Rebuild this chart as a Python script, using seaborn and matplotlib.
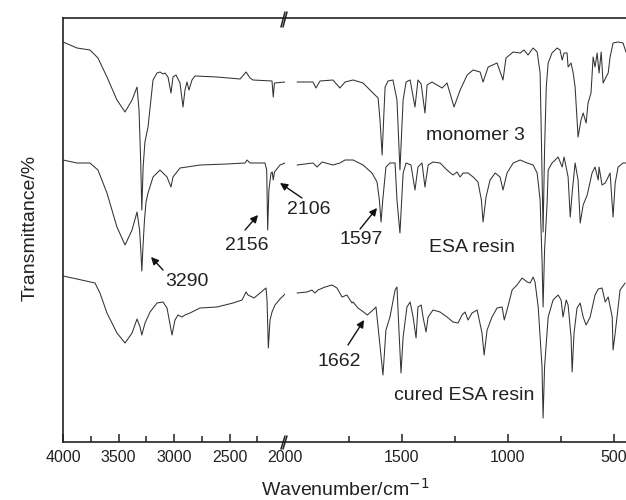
import matplotlib
matplotlib.use("Agg")
import matplotlib.pyplot as plt
from matplotlib.lines import Line2D
import pandas as pd
import seaborn as sns

# ---- spectra: wavenumber (cm^-1) and transmittance (arbitrary, stacked) ----
monomer_wn = [4000, 3874, 3757, 3685, 3604, 3514, 3441, 3378, 3333, 3315, 3300, 3290, 3278,
              3262, 3234, 3189, 3153, 3126, 3099, 3081, 3054, 3027, 3009, 2982, 2946, 2919,
              2901, 2883, 2865, 2838, 2811, 2613, 2405, 2351, 2315, 2288, 2117, 2106, 2095,
              2000,
              1993, 1918, 1904, 1885, 1824, 1791, 1767, 1729, 1682, 1635, 1611, 1602, 1592,
              1585, 1578, 1564, 1541, 1522, 1508, 1493, 1479, 1460, 1437, 1423, 1408, 1390,
              1380, 1357, 1333, 1309, 1286, 1253, 1224, 1191, 1163, 1130, 1116, 1092, 1050,
              1022, 1008, 974, 941, 923, 904, 880, 861, 847, 840, 833, 826, 818, 809, 791,
              767, 753, 743, 734, 720, 715, 701, 691, 682, 668, 654, 644, 630, 621, 607, 597,
              588, 578, 569, 559, 550, 536, 526, 517, 503, 479, 456, 442]
monomer_T = [400, 394, 392, 384, 365, 342, 330, 342, 355, 332, 280, 232, 275,
             300, 315, 362, 369, 370, 368, 369, 365, 349, 365, 367, 359, 335,
             352, 360, 352, 362, 366, 365, 363, 370, 364, 362, 361, 345, 359,
             360,
             360, 360, 354, 361, 362, 354, 360, 362, 359, 349, 344, 322, 287,
             322, 355, 361, 362, 342, 272, 342, 360, 362, 335, 362, 358, 329,
             357, 360, 357, 354, 359, 335, 352, 367, 372, 370, 360, 375, 379,
             362, 384, 390, 389, 392, 387, 394, 390, 369, 292, 210, 292, 355, 379, 389,
             394, 392, 382, 389, 389, 375, 379, 369, 355, 305, 322, 329, 319, 339, 349, 385,
             375, 389, 369, 390, 359, 365, 369, 385, 399, 400, 399, 390]

resin_wn = [4000, 3874, 3757, 3685, 3604, 3514, 3441, 3378, 3333, 3310, 3298, 3290, 3281,
            3266, 3252, 3234, 3189, 3126, 3063, 3027, 3009, 2946, 2883, 2766, 2523, 2360,
            2342, 2315, 2180, 2165, 2156, 2145, 2126, 2115, 2106, 2095, 2045, 2000,
            1993, 1918, 1899, 1875, 1824, 1791, 1767, 1729, 1682, 1640, 1616, 1605, 1597,
            1589, 1574, 1555, 1531, 1522, 1508, 1493, 1479, 1456, 1437, 1423, 1404, 1390,
            1375, 1352, 1319, 1286, 1258, 1239, 1224, 1210, 1187, 1163, 1140, 1124, 1116,
            1102, 1083, 1059, 1036, 1022, 1003, 974, 941, 908, 880, 861, 847, 838, 833,
            826, 814, 809, 791, 776, 762, 743, 734, 715, 705, 696, 682, 668, 658, 644, 625,
            602, 588, 573, 569, 555, 540, 526, 517, 503, 493, 479, 456, 442]
resin_T = [282, 279, 279, 272, 249, 215, 197, 212, 230, 212, 190, 171, 192,
           222, 240, 249, 265, 272, 265, 255, 265, 274, 275, 277, 278, 279,
           282, 279, 279, 272, 212, 252, 269, 270, 262, 270, 277, 279,
           277, 279, 275, 280, 277, 279, 282, 282, 277, 269, 260, 242, 220,
           242, 275, 279, 279, 242, 209, 269, 279, 277, 252, 275, 279, 255,
           277, 280, 279, 272, 267, 270, 265, 269, 269, 265, 260, 242, 220,
           245, 262, 269, 265, 252, 269, 279, 282, 279, 277, 269, 242, 182, 135,
           192, 239, 272, 279, 282, 285, 275, 285, 265, 225, 249, 279, 262, 219, 237, 247,
           269, 275, 262, 275, 257, 259, 265, 269, 225, 259, 275, 279, 279]

cured_wn = [4000, 3874, 3712, 3667, 3604, 3514, 3441, 3378, 3333, 3306, 3290, 3261, 3216,
            3153, 3099, 3063, 3018, 2991, 2964, 2928, 2901, 2856, 2766, 2613, 2468, 2387,
            2351, 2333, 2279, 2225, 2171, 2162, 2150, 2135, 2117, 2090, 2045, 2000,
            1993, 1946, 1923, 1909, 1894, 1861, 1828, 1805, 1781, 1758, 1734, 1729, 1706,
            1673, 1662, 1635, 1621, 1611, 1588, 1574, 1555, 1531, 1522, 1512, 1503, 1493,
            1475, 1460, 1446, 1432, 1423, 1408, 1399, 1385, 1375, 1352, 1319, 1286, 1258,
            1234, 1215, 1201, 1187, 1168, 1144, 1121, 1111, 1097, 1074, 1050, 1026, 1016,
            1003, 979, 956, 932, 908, 894, 880, 871, 856, 838, 833, 826, 809, 786, 762,
            748, 739, 724, 715, 701, 696, 687, 673, 658, 644, 630, 611, 588, 573, 555, 540,
            526, 507, 503, 493, 470, 446]
cured_T = [166, 163, 159, 149, 129, 109, 99, 109, 123, 115, 107, 119, 130,
           139, 140, 134, 107, 122, 127, 125, 127, 129, 134, 135, 139, 142,
           150, 147, 144, 149, 154, 142, 94, 122, 130, 137, 143, 148,
           149, 150, 152, 149, 152, 155, 157, 154, 145, 147, 139, 140, 134,
           129, 127, 132, 135, 115, 67, 112, 125, 152, 155, 109, 69, 105,
           135, 140, 125, 104, 135, 137, 125, 110, 125, 132, 130, 125, 120,
           119, 127, 130, 122, 129, 132, 109, 87, 112, 125, 134, 135, 122,
           132, 152, 157, 164, 160, 159, 165, 160, 135, 75, 24, 75, 125, 142, 147,
           142, 125, 142, 137, 105, 70, 109, 134, 139, 125, 117, 125, 147, 153, 154, 140,
           145, 125, 92, 109, 152, 159]

sample_names = ["monomer 3", "ESA resin", "cured ESA resin"]

# marked bands: value, arrow head (wn, T), arrow tail (wn, T), label centre (wn, T)
band_values = [3290, 2156, 2106, 1597, 1662]
band_heads = [(3207, 185), (2243, 227), (2045, 259), (1616, 234), (1677, 122)]
band_tails = [(3099, 172), (2360, 212), (1970, 244), (1696, 213), (1753, 97)]
band_texts = [(2883, 160), (2342, 197), (1937, 232), (1691, 202), (1795, 80)]

# sample name positions (wn, T) on the right-hand panel
name_pos = [(1154, 307), (1168, 194), (1206, 46)]

frames = []
for name, wn, tr in zip(sample_names, [monomer_wn, resin_wn, cured_wn],
                        [monomer_T, resin_T, cured_T]):
    frames.append(pd.DataFrame({"wn": wn, "T": tr, "sample": name}))
df = pd.concat(frames, ignore_index=True)

sns.set_theme(style="white")
plt.rcParams["font.family"] = ["Liberation Sans", "DejaVu Sans"]

W, H = 626, 500
fig = plt.figure(figsize=(W / 100, H / 100), dpi=100)


def rect(x0, y0, x1, y1):
    return [x0 / W, 1 - y1 / H, (x1 - x0) / W, (y1 - y0) / H]


ax_l = fig.add_axes(rect(63, 18, 285, 442))
ax_r = fig.add_axes(rect(285, 18, 626, 442))

line_color = "#333333"
for ax, part in [(ax_l, df[df["wn"] >= 2000]), (ax_r, df[df["wn"] < 2000])]:
    sns.lineplot(data=part, x="wn", y="T", units="sample", estimator=None, sort=False,
                 color=line_color, linewidth=0.75, ax=ax, legend=False)
    ax.set_xlabel("")
    ax.set_ylabel("")
    ax.set_ylim(0, 424)
    ax.set_yticks([])
    ax.set_facecolor("white")
    for s in ax.spines.values():
        s.set_color("#222222")
        s.set_linewidth(1.2)
    ax.tick_params(axis="x", which="both", direction="in", colors="#222222",
                   labelsize=11.5, pad=6, bottom=True, top=False)
    ax.tick_params(axis="x", which="major", length=6, width=1.1)
    ax.tick_params(axis="x", which="minor", length=4, width=1.1)

ax_l.set_xlim(4000, 2000)
ax_l.set_xticks([4000, 3500, 3000, 2500, 2000])
ax_l.set_xticks([3750, 3250, 2750, 2250], minor=True)
ax_l.spines["right"].set_visible(False)
ax_l.xaxis.get_major_ticks()[-1].tick1line.set_visible(False)

ax_r.set_xlim(2050, 442)
ax_r.set_xticks([1500, 1000, 500])
ax_r.set_xticks([1750, 1250, 750], minor=True)
ax_r.spines["left"].set_visible(False)
ax_r.spines["right"].set_visible(False)

# axis break marks
for (ya, yb) in [(12, 27), (436, 449)]:
    for dx in (0, 2.0):
        fig.add_artist(Line2D([(281 + dx) / W, (285 + dx) / W], [1 - yb / H, 1 - ya / H],
                              transform=fig.transFigure, color="#222222", lw=1.1))

text_kw = dict(fontsize=14, color="#222222", ha="center", va="center")
arrow_kw = dict(arrowstyle="-|>", color="#111111", lw=1.0, mutation_scale=11,
                shrinkA=0, shrinkB=0)

for val, head, tail, pos in zip(band_values, band_heads, band_tails, band_texts):
    head_ax = ax_l if head[0] >= 2000 else ax_r
    tail_ax = ax_l if tail[0] >= 2000 else ax_r
    text_ax = ax_l if pos[0] >= 2000 else ax_r
    text_ax.annotate("", xy=head, xycoords=head_ax.transData,
                     xytext=tail, textcoords=tail_ax.transData,
                     arrowprops=arrow_kw, annotation_clip=False)
    text_ax.text(pos[0], pos[1], str(val), **text_kw)

for name, (x, y) in zip(sample_names, name_pos):
    ax_r.text(x, y, name, **text_kw)

fig.text(30 / W, 1 - 228 / H, "Transmittance/%", rotation=90, fontsize=14,
         color="#222222", ha="center", va="center")
fig.text(345 / W, 1 - 489 / H, "Wavenumber/cm$^{-1}$", fontsize=14,
         color="#222222", ha="center", va="center")

fig.savefig("out.png", dpi=100, facecolor="white")
